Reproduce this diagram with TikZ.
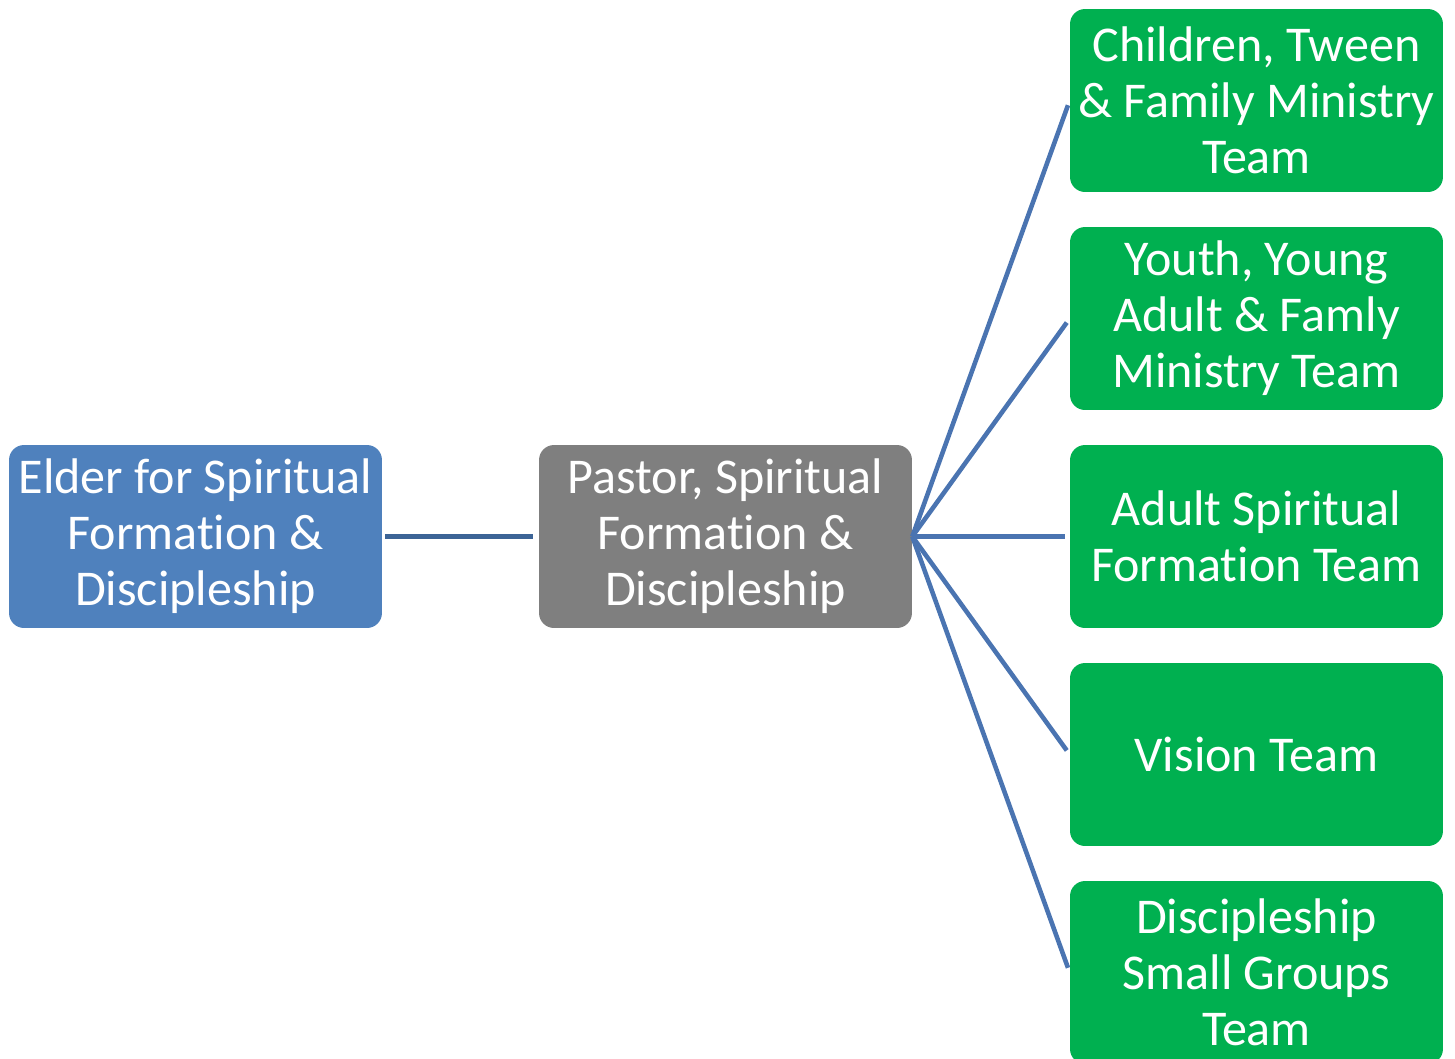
\documentclass[tikz,border=0pt]{standalone}
\usepackage{fontspec}
\setmainfont{Carlito}[Ligatures=NoCommon]
\definecolor{elderblue}{HTML}{4F81BD}
\definecolor{pastorgray}{HTML}{7F7F7F}
\definecolor{teamgreen}{HTML}{00B050}
\definecolor{fanblue}{HTML}{4A74B1}
\definecolor{linkblue}{HTML}{3C6496}
\begin{document}
\begin{tikzpicture}[x=0.02cm,y=-0.02cm,
    box/.style={rounded corners=0.3cm,minimum width=7.46cm,minimum height=3.66cm,
        align=center,text=white,inner sep=0pt,
        font=\fontsize{28.5}{31.9}\selectfont},
    fan/.style={draw=fanblue,line width=2.6pt,shorten >=0.1cm}]
    \useasboundingbox (0,0) rectangle (1455,1059);
    \node[box,fill=elderblue](elder) at (195.5,536.5){Elder for Spiritual\\Formation \&\\Discipleship};
    \node[box,fill=pastorgray](pastor) at (725.5,536.5){Pastor, Spiritual\\Formation \&\\Discipleship};
    \node[box,fill=teamgreen](children) at (1256.5,100.5){Children, Tween\\\& Family Ministry\\Team};
    \node[box,fill=teamgreen](youth) at (1256.5,318.5){Youth, Young\\Adult \& Famly\\Ministry Team};
    \node[box,fill=teamgreen](adult) at (1256.5,536.5){Adult Spiritual\\Formation Team};
    \node[box,fill=teamgreen](vision) at (1256.5,754.5){Vision Team};
    \node[box,fill=teamgreen](groups) at (1256.5,972.5){Discipleship\\Small Groups\\Team};
    \draw[draw=linkblue,line width=2.6pt,shorten <=0.06cm,shorten >=0.12cm] (elder.east) -- (pastor.west);
    \foreach \team in {children,youth,adult,vision,groups}
        \draw[fan] (pastor.east) -- (\team.west);
\end{tikzpicture}
\end{document}
